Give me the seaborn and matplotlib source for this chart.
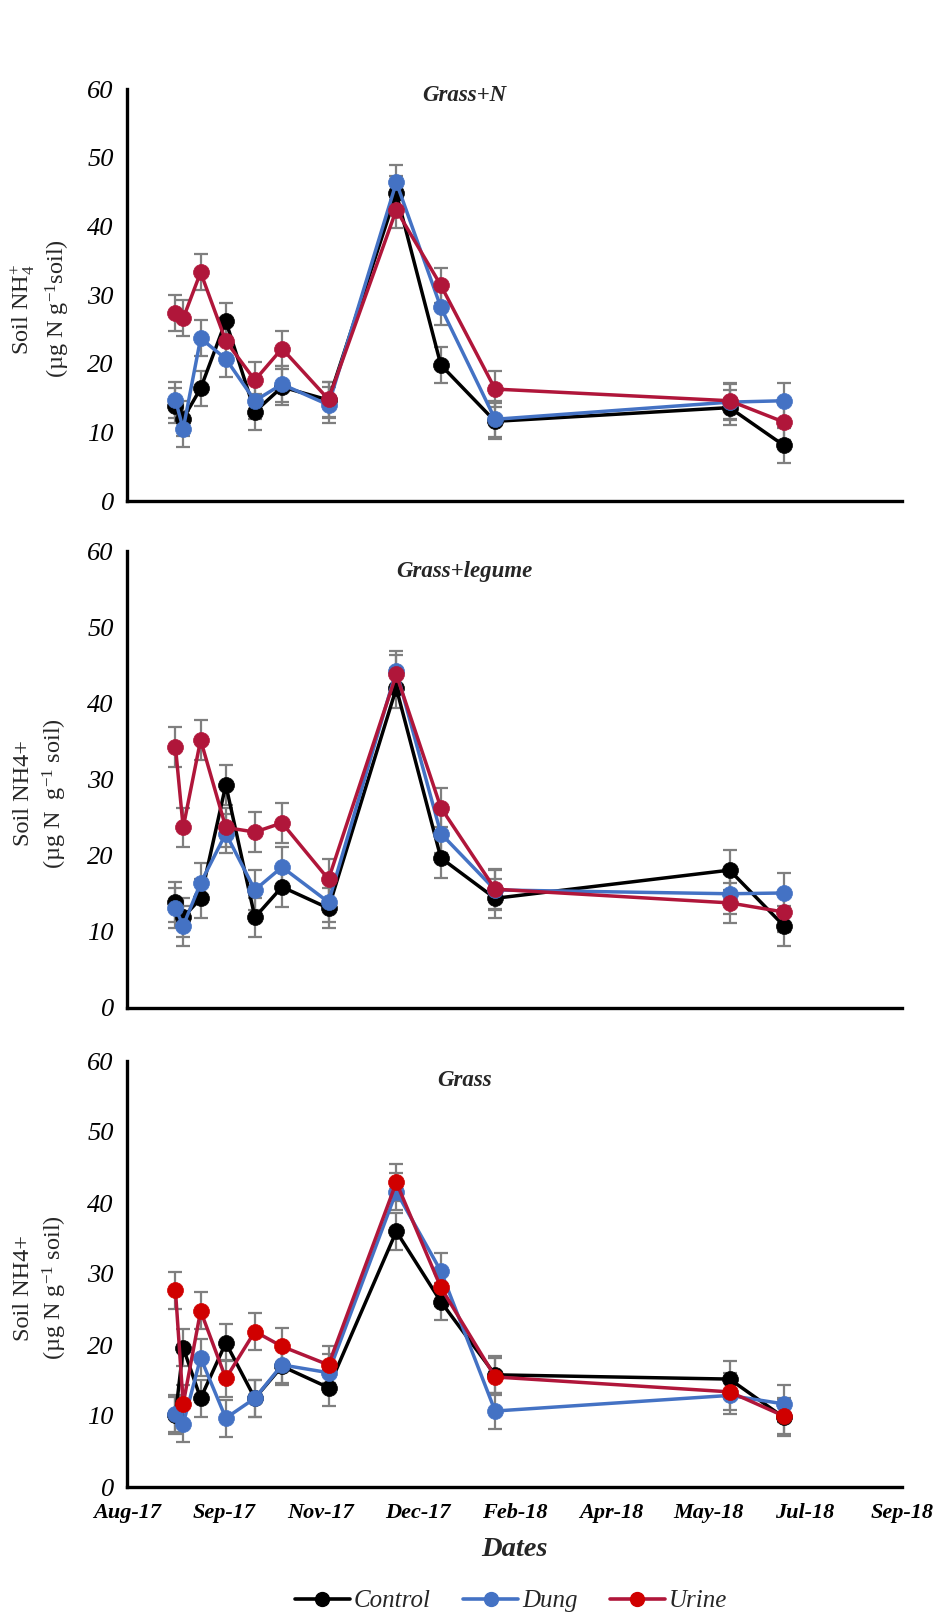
import numpy as np
import pandas as pd
import matplotlib
matplotlib.use("Agg")
import matplotlib.pyplot as plt
import matplotlib.dates as mdates
from matplotlib.lines import Line2D
import seaborn as sns

sns.set_theme(style="white")
plt.rcParams['font.family'] = ['Liberation Serif', 'DejaVu Serif']
plt.rcParams['mathtext.fontset'] = 'custom'
plt.rcParams['mathtext.rm'] = 'Liberation Serif'
plt.rcParams['mathtext.it'] = 'Liberation Serif:italic'

# ---------------- data ----------------
dates = ["2017-08-27", "2017-08-31", "2017-09-09", "2017-09-22", "2017-10-07", "2017-10-21",
         "2017-11-14", "2017-12-19", "2018-01-11", "2018-02-08", "2018-06-09", "2018-07-07"]

treatments = ["Control", "Dung", "Urine"]
panels = ["Grass+N", "Grass+legume", "Grass"]

# Grass+N
gn_control = [13.9, 12.0, 16.4, 26.2, 13.0, 16.6, 14.7, 44.8, 19.8, 11.6, 13.6, 8.1]
gn_dung    = [14.7, 10.5, 23.7, 20.7, 14.6, 17.0, 14.0, 46.4, 28.2, 11.9, 14.4, 14.6]
gn_urine   = [27.4, 26.6, 33.3, 23.3, 17.6, 22.2, 14.8, 42.4, 31.4, 16.3, 14.6, 11.5]
gn_err_control = [2.6, 2.6, 2.6, 2.6, 2.6, 2.6, 2.6, 2.6, 2.6, 2.6, 2.6, 2.5]
gn_err_dung    = [2.6, 2.6, 2.6, 2.6, 2.6, 2.6, 2.6, 2.6, 2.6, 2.6, 2.6, 2.6]
gn_err_urine   = [2.6, 2.6, 2.6, 2.6, 2.6, 2.6, 2.6, 2.6, 2.6, 2.6, 2.6, 2.6]

# Grass+legume
gl_control = [13.9, 11.9, 14.4, 29.3, 11.9, 15.9, 13.1, 42.0, 19.7, 14.4, 18.1, 10.8]
gl_dung    = [13.1, 10.8, 16.4, 22.9, 15.5, 18.5, 13.9, 44.3, 22.9, 15.5, 15.0, 15.1]
gl_urine   = [34.3, 23.7, 35.2, 23.7, 23.1, 24.3, 16.9, 43.8, 26.3, 15.6, 13.8, 12.6]
gl_err_control = [2.6, 2.6, 2.6, 2.6, 2.6, 2.6, 2.6, 2.6, 2.6, 2.6, 2.6, 2.6]
gl_err_dung    = [2.6, 2.6, 2.6, 2.6, 2.6, 2.6, 2.6, 2.6, 2.6, 2.6, 2.6, 2.6]
gl_err_urine   = [2.6, 2.6, 2.6, 2.6, 2.6, 2.6, 2.6, 2.6, 2.6, 2.6, 2.6, 2.6]

# Grass
g_control = [10.1, 19.6, 12.5, 20.3, 12.5, 17.0, 14.0, 36.0, 26.1, 15.8, 15.2, 9.8]
g_dung    = [10.3, 8.9, 18.2, 9.7, 12.5, 17.2, 16.1, 41.6, 30.4, 10.7, 12.9, 11.7]
g_urine   = [27.7, 11.7, 24.8, 15.3, 21.9, 19.8, 17.2, 42.9, 28.1, 15.5, 13.4, 10.0]
g_err_control = [2.6, 2.6, 2.6, 2.6, 2.6, 2.6, 2.6, 2.6, 2.6, 2.6, 2.6, 2.6]
g_err_dung    = [2.6, 2.6, 2.6, 2.6, 2.6, 2.6, 2.6, 2.6, 2.6, 2.6, 2.6, 2.6]
g_err_urine   = [2.6, 2.6, 2.6, 2.6, 2.6, 2.6, 2.6, 2.6, 2.6, 2.6, 2.6, 2.6]

x_tick_start = "2017-08-02"
x_tick_step_days = 50
n_ticks = 9
y_ticks = [0, 10, 20, 30, 40, 50, 60]

ylabels = ["Soil NH$_4^{+}$\n(\u00b5g N g$^{-1}$soil)",
           "Soil NH4+\n(\u00b5g N  g$^{-1}$ soil)",
           "Soil NH4+\n(\u00b5g N g$^{-1}$ soil)"]

# ---------------- styling ----------------
line_colors = {"Control": "#000000", "Dung": "#4472C4", "Urine": "#B0163A"}
marker_colors = [
    {"Control": "#000000", "Dung": "#4472C4", "Urine": "#B0163A"},
    {"Control": "#000000", "Dung": "#4472C4", "Urine": "#B0163A"},
    {"Control": "#000000", "Dung": "#4472C4", "Urine": "#D00000"},
]
err_color = "#7F7F7F"

panel_data = [
    {"Control": (gn_control, gn_err_control), "Dung": (gn_dung, gn_err_dung), "Urine": (gn_urine, gn_err_urine)},
    {"Control": (gl_control, gl_err_control), "Dung": (gl_dung, gl_err_dung), "Urine": (gl_urine, gl_err_urine)},
    {"Control": (g_control, g_err_control), "Dung": (g_dung, g_err_dung), "Urine": (g_urine, g_err_urine)},
]

W, H = 939, 1616
fig = plt.figure(figsize=(W / 100, H / 100), dpi=100)
fig.patch.set_facecolor("white")

left_px, right_px = 127, 902
axes_px = [(89, 501), (551, 1008), (1061, 1487)]

xdates = pd.to_datetime(dates)
tick_dates = pd.to_datetime(x_tick_start) + pd.to_timedelta(np.arange(n_ticks) * x_tick_step_days, unit="D")

for i, (top, bot) in enumerate(axes_px):
    ax = fig.add_axes([left_px / W, 1 - bot / H, (right_px - left_px) / W, (bot - top) / H])
    ax.set_facecolor("white")
    for t in treatments:
        vals, errs = panel_data[i][t]
        ax.errorbar(xdates, vals, yerr=errs, fmt="none", ecolor=err_color,
                    elinewidth=1.6, capsize=5, capthick=1.6, zorder=2)
    for k, t in enumerate(treatments):
        vals, errs = panel_data[i][t]
        df = pd.DataFrame({"date": xdates, "value": vals})
        sns.lineplot(data=df, x="date", y="value", ax=ax, color=line_colors[t],
                     linewidth=2.5, marker="o", markersize=11.5,
                     markerfacecolor=marker_colors[i][t], markeredgecolor=marker_colors[i][t],
                     markeredgewidth=0.5, zorder=3 + k)

    ax.set_ylim(0, 60)
    ax.set_xlim(tick_dates[0], tick_dates[-1])
    ax.set_yticks(y_ticks)
    ax.set_xticks(tick_dates)
    ax.xaxis.set_major_formatter(mdates.DateFormatter("%b-%y"))
    for s in ["top", "right"]:
        ax.spines[s].set_visible(False)
    for s in ["left", "bottom"]:
        ax.spines[s].set_linewidth(2.4)
        ax.spines[s].set_color("black")
    ax.tick_params(axis="both", direction="inout", length=11, width=2.4, color="black")
    ax.tick_params(axis="y", pad=4)
    ax.tick_params(axis="x", pad=6)
    for lab in ax.get_yticklabels():
        lab.set_fontstyle("italic")
        lab.set_fontsize(19)
        lab.set_color("black")
    if i < 2:
        ax.set_xticklabels([])
    else:
        for lab in ax.get_xticklabels():
            lab.set_fontstyle("italic")
            lab.set_fontweight("bold")
            lab.set_fontsize(16)
            lab.set_color("black")
    ax.set_xlabel("")
    ax.set_ylabel("")
    ax.grid(False)

    ax.text(0.435, 0.985 if i == 0 else 0.955, panels[i], transform=ax.transAxes,
            ha="center", va="center", fontsize=16.5, fontweight="bold", fontstyle="italic")

    fig.text(41 / W, 1 - ((top + bot) / 2 + 14) / H, ylabels[i], rotation=90,
             ha="center", va="center", fontsize=17.5, linespacing=1.3)

    if i == 2:
        ax.set_xlabel("Dates", fontsize=20.5, fontweight="bold", fontstyle="italic", labelpad=10)

# legend
handles = []
leg_marker = {"Control": "#000000", "Dung": "#4472C4", "Urine": "#D00000"}
for t in treatments:
    handles.append(Line2D([0], [0], color=line_colors[t], linewidth=2.6, marker="o",
                          markersize=10, markerfacecolor=leg_marker[t], markeredgecolor=leg_marker[t]))
leg = fig.legend(handles, treatments, loc="center", bbox_to_anchor=(511 / W, 1 - 1601 / H),
                 ncol=3, frameon=False, handlelength=2.2, handletextpad=0.15, columnspacing=1.3,
                 prop={"style": "italic", "size": 18})

fig.savefig("out.png", dpi=100, facecolor="white")
